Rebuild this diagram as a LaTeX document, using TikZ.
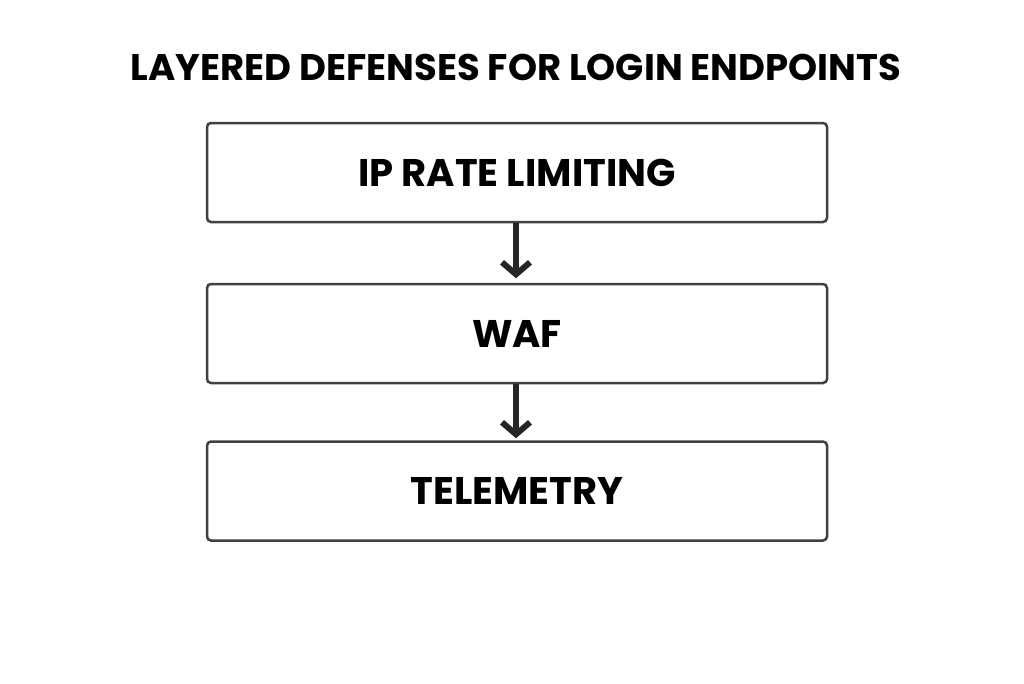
\documentclass[tikz,border=0pt]{standalone}
\usepackage{fontspec}
\setmainfont{Poppins}
\usetikzlibrary{arrows.meta}
\tikzset{
  layerbox/.style={draw=black!75, line width=2.5pt, rounded corners=4pt, minimum width=620pt, minimum height=99pt, font=\fontsize{38.5}{44}\selectfont\bfseries},
  flowarrow/.style={draw=black!85, line width=6pt, -{Straight Barb[length=12pt,width=28pt,line width=6pt]}}
}
\begin{document}
\begin{tikzpicture}[x=1pt,y=-1pt]
\useasboundingbox (0,0) rectangle (1024,683);
% Title
\node[font=\fontsize{37}{44}\selectfont\bfseries] (title) at (516,67) {LAYERED DEFENSES FOR LOGIN ENDPOINTS};
% Layers
\node[layerbox] (rate) at (517,172.5) {IP RATE LIMITING};
\node[layerbox] (waf) at (517,333.5) {WAF};
\node[layerbox] (tele) at (517,491) {TELEMETRY};
% Arrows
\draw[flowarrow] (rate.south) ++(-1,0) -- ++(0,55);
\draw[flowarrow] (waf.south) ++(-1,0) -- ++(0,54);
\end{tikzpicture}
\end{document}
